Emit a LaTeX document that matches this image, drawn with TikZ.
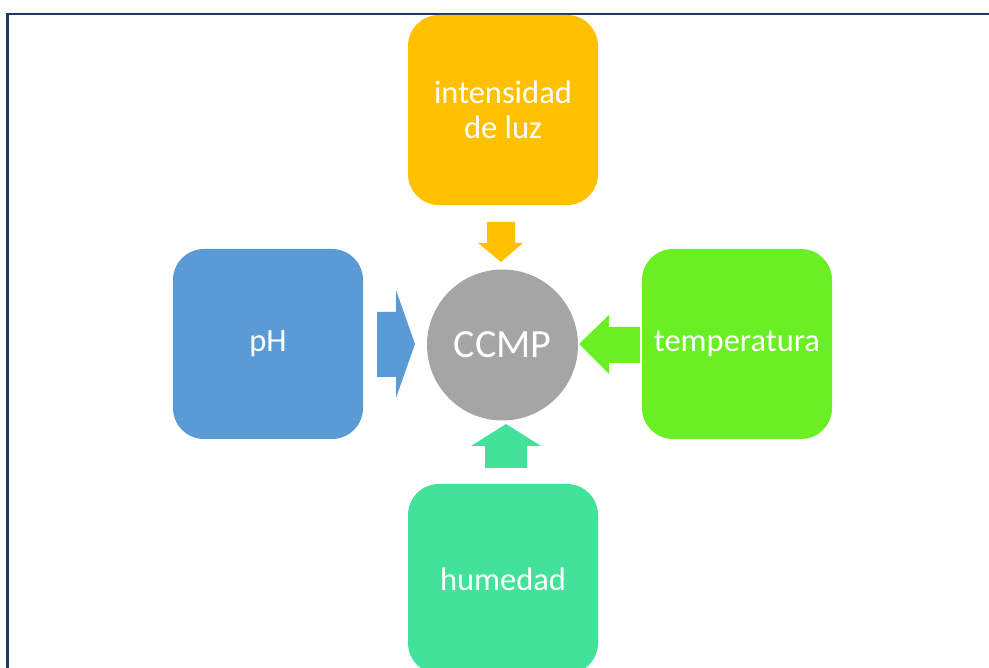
\documentclass[tikz,border=0pt]{standalone}
\usepackage{fontspec}
\setmainfont{Carlito}
\usetikzlibrary{positioning}
\definecolor{marco}{RGB}{31,56,100}
\definecolor{amarillo}{RGB}{255,192,0}
\definecolor{azul}{RGB}{91,155,213}
\definecolor{verde}{RGB}{106,239,36}
\definecolor{turquesa}{RGB}{66,226,154}
\definecolor{gris}{RGB}{165,165,165}
\tikzset{
  caja/.style={rectangle, rounded corners=31pt, minimum width=190pt, minimum height=190pt,
    inner sep=0pt, text=white, align=center, font=\fontsize{32.5}{35}\selectfont},
  centro/.style={circle, fill=gris, minimum size=151pt, inner sep=0pt, text=white,
    font=\fontsize{40}{44}\selectfont}
}
\begin{document}
\begin{tikzpicture}[x=1pt,y=-1pt]
        \useasboundingbox (0,0) rectangle (989,668);
        \begin{scope}
            \clip (0,0) rectangle (989,668);
            \draw[marco, line width=2.5pt] (7.5,14) rectangle (1010,690);
            % cajas
            \node[caja, fill=amarillo] (luz) at (503,110) {intensidad\\de luz};
            \node[caja, fill=turquesa] (hum) at (503,579) {humedad};
        \end{scope}
        \node[caja, fill=azul] (ph) at (268,344) {pH};
        \node[caja, fill=verde] (temp) at (737,344) {temperatura};
        \node[centro] (ccmp) at (502.5,345) {CCMP};
        % flechas
        \fill[amarillo] (487,222) -- (515,222) -- (515,243) -- (523,243) -- (501,262)
            -- (478,243) -- (487,243) -- cycle;
        \fill[azul] (377,312) -- (396,312) -- (396,290) -- (415,344) -- (396,398)
            -- (396,377) -- (377,377) -- cycle;
        \fill[verde] (640,327) -- (609,327) -- (609,315) -- (579,344) -- (609,374)
            -- (609,363) -- (640,363) -- cycle;
        \fill[turquesa] (485,468) -- (485,446) -- (471,446) -- (506,424) -- (541,446)
            -- (527,446) -- (527,468) -- cycle;
\end{tikzpicture}
\end{document}
